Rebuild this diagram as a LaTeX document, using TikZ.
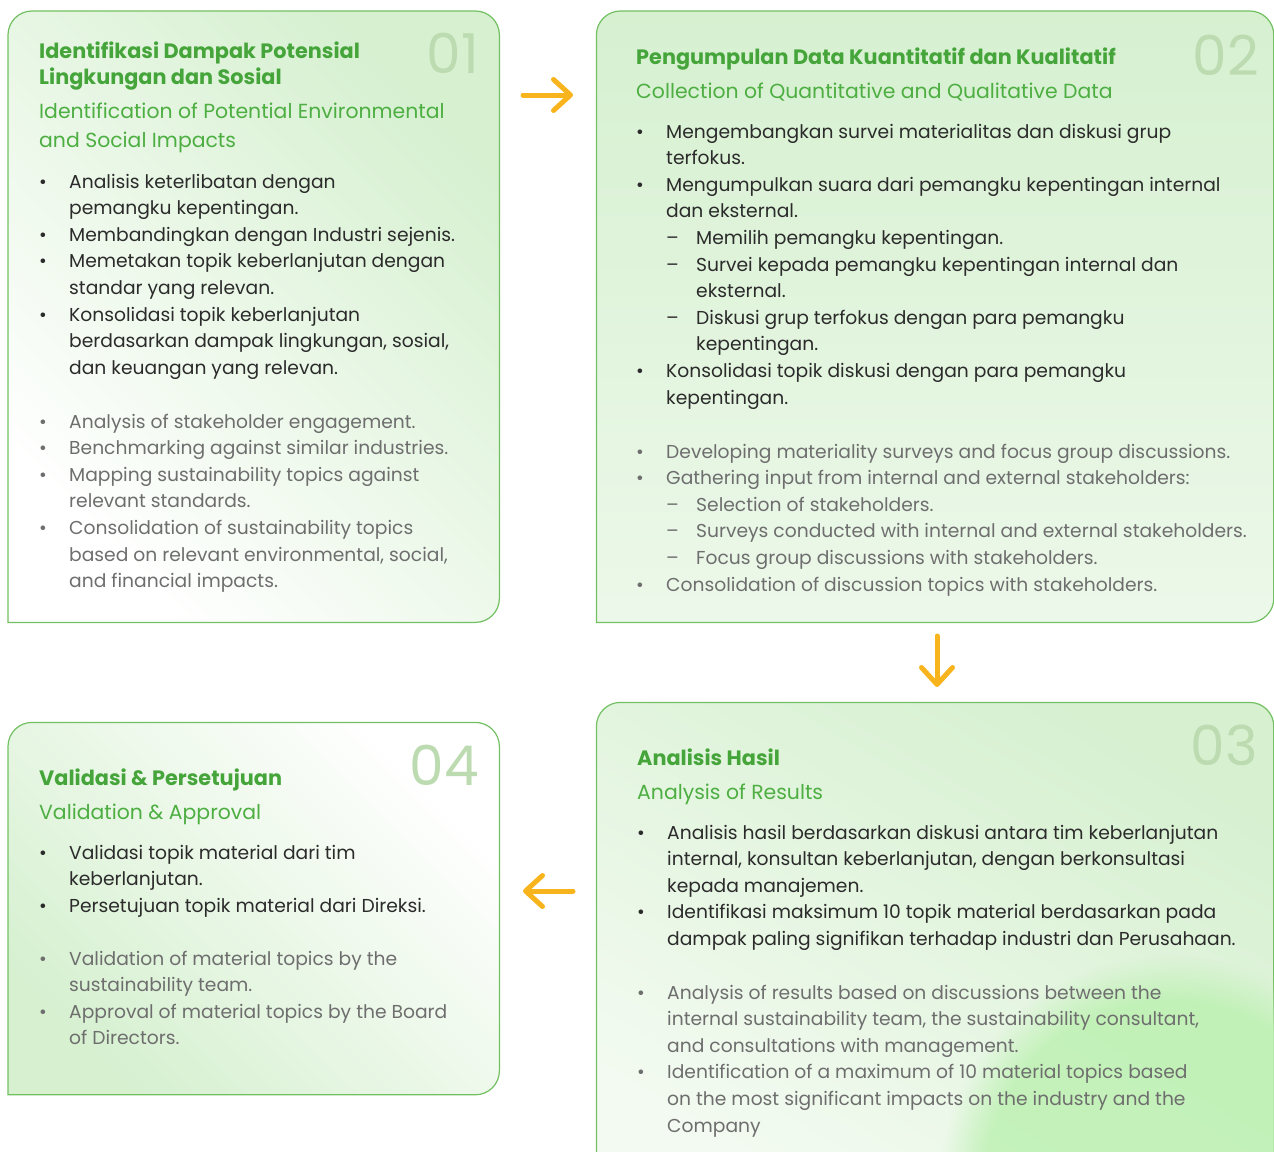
\documentclass[tikz,border=0pt]{standalone}
\usepackage{fontspec}
\setmainfont{Poppins}
\usetikzlibrary{arrows.meta,positioning,fadings}

\definecolor{cardline}{HTML}{72C062}
\definecolor{cardfill}{HTML}{D6F0D0}
\definecolor{glowgreen}{HTML}{BDF1B2}
\definecolor{headgreen}{HTML}{45A53A}
\definecolor{subgreen}{HTML}{4DAE42}
\definecolor{stepgreen}{HTML}{BCDBB0}
\definecolor{bodytext}{HTML}{2B2B2B}
\definecolor{entext}{HTML}{6E6E6E}
\definecolor{flowyellow}{HTML}{F8B41C}

\newcommand{\subitm}[1]{\makebox[30pt][l]{--}#1}
\newcommand{\subcont}[1]{\hspace*{30pt}#1}
\newcommand{\cardlines}[1]{\begin{tabular}[t]{@{}l@{}}#1\end{tabular}}
\newenvironment{steplist}{\begin{tabular}[t]{@{}p{30pt}@{}l@{}}}{\end{tabular}}

\tikzset{
  card/.style={draw=cardline, line width=1.2pt},
  cardbox/.style={inner sep=0pt, anchor=north west},
  stepno/.style={font=\fontsize{55}{55}\selectfont, text=stepgreen, anchor=base east, inner sep=0pt},
  titleid/.style={font=\fontsize{20.8}{26}\selectfont\bfseries, text=headgreen, anchor=base west, inner sep=0pt},
  titleen/.style={font=\fontsize{20.4}{29}\selectfont, text=subgreen, anchor=base west, inner sep=0pt},
  listid/.style={font=\fontsize{18.7}{26.6}\selectfont, text=bodytext, anchor=base west, inner sep=0pt},
  listen/.style={listid, text=entext},
  flow/.style={draw=flowyellow, line width=5pt, line cap=round,
    -{Straight Barb[length=17pt, width=31pt, round]}}
}

\begin{document}
\begin{tikzpicture}[x=1pt, y=-1pt]
  \clip (0,0) rectangle (1274,1151);

  % cards
  \node[cardbox, minimum width=491pt, minimum height=611pt] (c1) at (8,11) {};
  \node[cardbox, minimum width=677pt, minimum height=611pt, right=97pt of c1] (c2) {};
  \node[cardbox, minimum width=677pt, minimum height=483pt, below=80pt of c2] (c3) {};
  \node[cardbox, minimum width=491pt, minimum height=372pt, below=100pt of c1] (c4) {};

  \path[card, top color=cardfill, bottom color=white, shading angle=-45]
    (c1.south west) [rounded corners=24pt] -- (c1.north west) -- (c1.north east) -- (c1.south east) [sharp corners] -- cycle;
  \path[card, top color=cardfill, bottom color=white!55!cardfill]
    (c2.south west) [rounded corners=24pt] -- (c2.north west) -- (c2.north east) -- (c2.south east) [sharp corners] -- cycle;
  \path[card, top color=cardfill, bottom color=white!70!cardfill, shading angle=-30]
    (c3.south west) [rounded corners=24pt] -- (c3.north west) -- (c3.north east) -- (c3.south east) [sharp corners] -- cycle;
  \path[card, top color=cardfill, bottom color=white, shading angle=135]
    (c4.south west) [rounded corners=24pt] -- (c4.north west) -- (c4.north east) -- (c4.south east) [sharp corners] -- cycle;
  \begin{scope}
    \clip (c3.south west) rectangle (c3.north east);
    \fill[glowgreen, path fading=circle with fuzzy edge 20 percent, fill opacity=0.85] (1170,1185) circle (230pt);
  \end{scope}

  % numbers
  \node[stepno] (n1) at (479,73) {01};
  \node[stepno] (n2) at (1259,75) {02};
  \node[stepno] (n3) at (1258,765) {03};
  \node[stepno] (n4) at (479,785) {04};

  % 01
  \node[titleid] (t1) at (39,58) {\cardlines{Identifikasi Dampak Potensial\\Lingkungan dan Sosial}};
  \node[titleen] (s1) at (39,118) {\cardlines{Identification of Potential Environmental\\and Social Impacts}};
  \node[listid] (l1) at (39,188) {\begin{steplist}
    \textbullet & Analisis keterlibatan dengan\\
     & pemangku kepentingan.\\
    \textbullet & Membandingkan dengan Industri sejenis.\\
    \textbullet & Memetakan topik keberlanjutan dengan\\
     & standar yang relevan.\\
    \textbullet & Konsolidasi topik keberlanjutan\\
     & berdasarkan dampak lingkungan, sosial,\\
     & dan keuangan yang relevan.
  \end{steplist}};
  \node[listen] (e1) at (39,428) {\begin{steplist}
    \textbullet & Analysis of stakeholder engagement.\\
    \textbullet & Benchmarking against similar industries.\\
    \textbullet & Mapping sustainability topics against\\
     & relevant standards.\\
    \textbullet & Consolidation of sustainability topics\\
     & based on relevant environmental, social,\\
     & and financial impacts.
  \end{steplist}};

  % 02
  \node[titleid] (t2) at (636,64) {\cardlines{Pengumpulan Data Kuantitatif dan Kualitatif}};
  \node[titleen] (s2) at (636,98) {\cardlines{Collection of Quantitative and Qualitative Data}};
  \node[listid] (l2) at (636,138) {\begin{steplist}
    \textbullet & Mengembangkan survei materialitas dan diskusi grup\\
     & terfokus.\\
    \textbullet & Mengumpulkan suara dari pemangku kepentingan internal\\
     & dan eksternal.\\
     & \subitm{Memilih pemangku kepentingan.}\\
     & \subitm{Survei kepada pemangku kepentingan internal dan}\\
     & \subcont{eksternal.}\\
     & \subitm{Diskusi grup terfokus dengan para pemangku}\\
     & \subcont{kepentingan.}\\
    \textbullet & Konsolidasi topik diskusi dengan para pemangku\\
     & kepentingan.
  \end{steplist}};
  \node[listen] (e2) at (636,458) {\begin{steplist}
    \textbullet & Developing materiality surveys and focus group discussions.\\
    \textbullet & Gathering input from internal and external stakeholders:\\
     & \subitm{Selection of stakeholders.}\\
     & \subitm{Surveys conducted with internal and external stakeholders.}\\
     & \subitm{Focus group discussions with stakeholders.}\\
    \textbullet & Consolidation of discussion topics with stakeholders.
  \end{steplist}};

  % 03
  \node[titleid] (t3) at (637,765) {\cardlines{Analisis Hasil}};
  \node[titleen] (s3) at (637,799) {\cardlines{Analysis of Results}};
  \node[listid] (l3) at (637,839) {\begin{steplist}
    \textbullet & Analisis hasil berdasarkan diskusi antara tim keberlanjutan\\
     & internal, konsultan keberlanjutan, dengan berkonsultasi\\
     & kepada manajemen.\\
    \textbullet & Identifikasi maksimum 10 topik material berdasarkan pada\\
     & dampak paling signifikan terhadap industri dan Perusahaan.
  \end{steplist}};
  \node[listen] (e3) at (637,999) {\begin{steplist}
    \textbullet & Analysis of results based on discussions between the\\
     & internal sustainability team, the sustainability consultant,\\
     & and consultations with management.\\
    \textbullet & Identification of a maximum of 10 material topics based\\
     & on the most significant impacts on the industry and the\\
     & Company
  \end{steplist}};

  % 04
  \node[titleid] (t4) at (39,785) {\cardlines{Validasi \& Persetujuan}};
  \node[titleen] (s4) at (39,819) {\cardlines{Validation \& Approval}};
  \node[listid] (l4) at (39,859) {\begin{steplist}
    \textbullet & Validasi topik material dari tim\\
     & keberlanjutan.\\
    \textbullet & Persetujuan topik material dari Direksi.
  \end{steplist}};
  \node[listen] (e4) at (39,965) {\begin{steplist}
    \textbullet & Validation of material topics by the\\
     & sustainability team.\\
    \textbullet & Approval of material topics by the Board\\
     & of Directors.
  \end{steplist}};

  % flow arrows
  \coordinate (f1a) at (523,95);
  \coordinate (f1b) at (573,95);
  \coordinate (f2a) at (937,636);
  \coordinate (f2b) at (937,687);
  \coordinate (f3a) at (573,891);
  \coordinate (f3b) at (523,891);
  \draw[flow] (f1a) -- (f1b);
  \draw[flow] (f2a) -- (f2b);
  \draw[flow] (f3a) -- (f3b);
\end{tikzpicture}
\end{document}
